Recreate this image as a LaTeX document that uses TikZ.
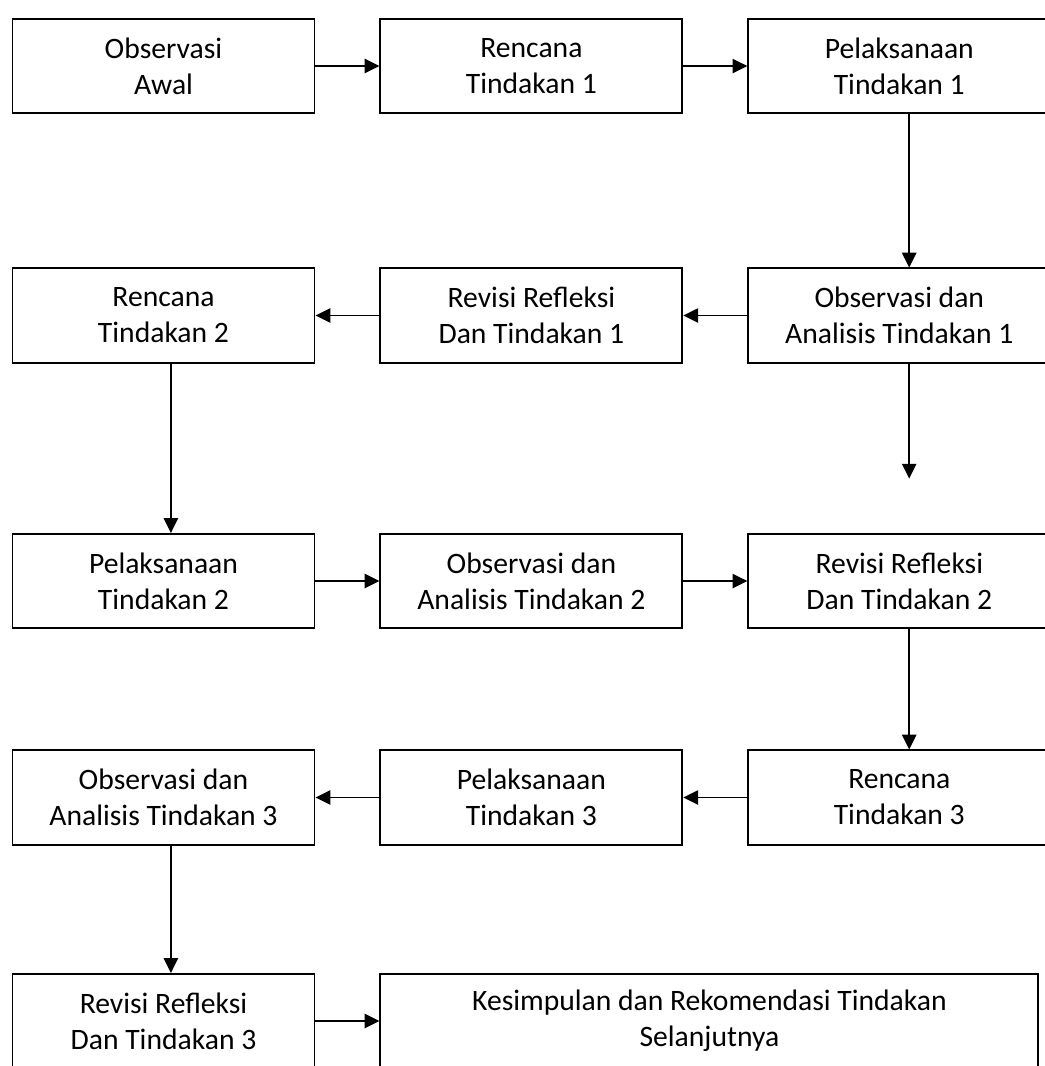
\documentclass[tikz,border=0pt]{standalone}
\usepackage{fontspec}
\setmainfont{Carlito}
\usetikzlibrary{positioning}
\usetikzlibrary{arrows.meta}

\begin{document}
\begin{tikzpicture}[x=0.405pt, y=-0.405pt, boxnode/.style={rectangle,
      draw=black, fill=white, line width=0.8pt, minimum width=122.3pt,
      minimum height=38.1pt, align=center, inner sep=0pt,
      font=\fontsize{12}{14.6}\selectfont},
    widenode/.style={boxnode, minimum width=266.5pt},
    arrowline/.style={-{Triangle[length=6pt, width=5.8pt]}, line width=0.6pt},
    node distance=25.9pt, ]
    \path[use as bounding box, clip] (0,0) rectangle (1045,1066);
    % Nodes
    \node[boxnode] (awal) at (163.5,66) {Observasi\\Awal}; \node[boxnode]
    (rt1) [right=of awal] {Rencana\\Tindakan 1}; \node[boxnode] (pt1)
    [right=of rt1] {Pelaksanaan\\Tindakan 1};
    \node[boxnode] (rt2) at (163.5,315.5) {Rencana\\Tindakan 2};
    \node[boxnode] (rr1) [right=of rt2] {Revisi Refleksi\\Dan Tindakan 1};
    \node[boxnode] (oa1) [right=of rr1] {Observasi dan\\Analisis Tindakan 1};
    \node[boxnode] (pt2) at (163.5,581) {Pelaksanaan\\Tindakan 2};
    \node[boxnode] (oa2) [right=of pt2] {Observasi dan\\Analisis Tindakan 2};
    \node[boxnode] (rr2) [right=of oa2] {Revisi Refleksi\\Dan Tindakan 2};
    \node[boxnode] (oa3) at (163.5,797.5) {Observasi dan\\Analisis Tindakan 3};
    \node[boxnode] (pt3) [right=of oa3] {Pelaksanaan\\Tindakan 3};
    \node[boxnode] (rt3) [right=of pt3] {Rencana\\Tindakan 3};
    \node[boxnode] (rr3) at (163.5,1021) {Revisi Refleksi\\Dan Tindakan 3};
    \node[widenode] (kesimpulan) [right=of rr3] {Kesimpulan dan Rekomendasi
      Tindakan\\Selanjutnya};
    \coordinate (stub) at ([xshift=4pt, yshift=-46.6pt]oa1.south);
    % Lines
    \draw[arrowline] (awal.east) -- (rt1.west); \draw[arrowline]
    (rt1.east) -- (pt1.west); \draw[arrowline] ([xshift=4pt]pt1.south) --
    ([xshift=4pt]oa1.north); \draw[arrowline] (oa1.west) -- (rr1.east);
    \draw[arrowline] (rr1.west) -- (rt2.east); \draw[arrowline]
    ([xshift=4pt]oa1.south) -- (stub); \draw[arrowline]
    ([xshift=3pt]rt2.south) -- ([xshift=3pt]pt2.north); \draw[arrowline]
    (pt2.east) -- (oa2.west); \draw[arrowline] (oa2.east) -- (rr2.west);
    \draw[arrowline] ([xshift=4pt]rr2.south) -- ([xshift=4pt]rt3.north);
    \draw[arrowline] (rt3.west) -- (pt3.east); \draw[arrowline] (pt3.west)
    -- (oa3.east); \draw[arrowline] ([xshift=3pt]oa3.south) --
    ([xshift=3pt]rr3.north); \draw[arrowline] (rr3.east) --
    (kesimpulan.west);
  \end{tikzpicture}
\end{document}
